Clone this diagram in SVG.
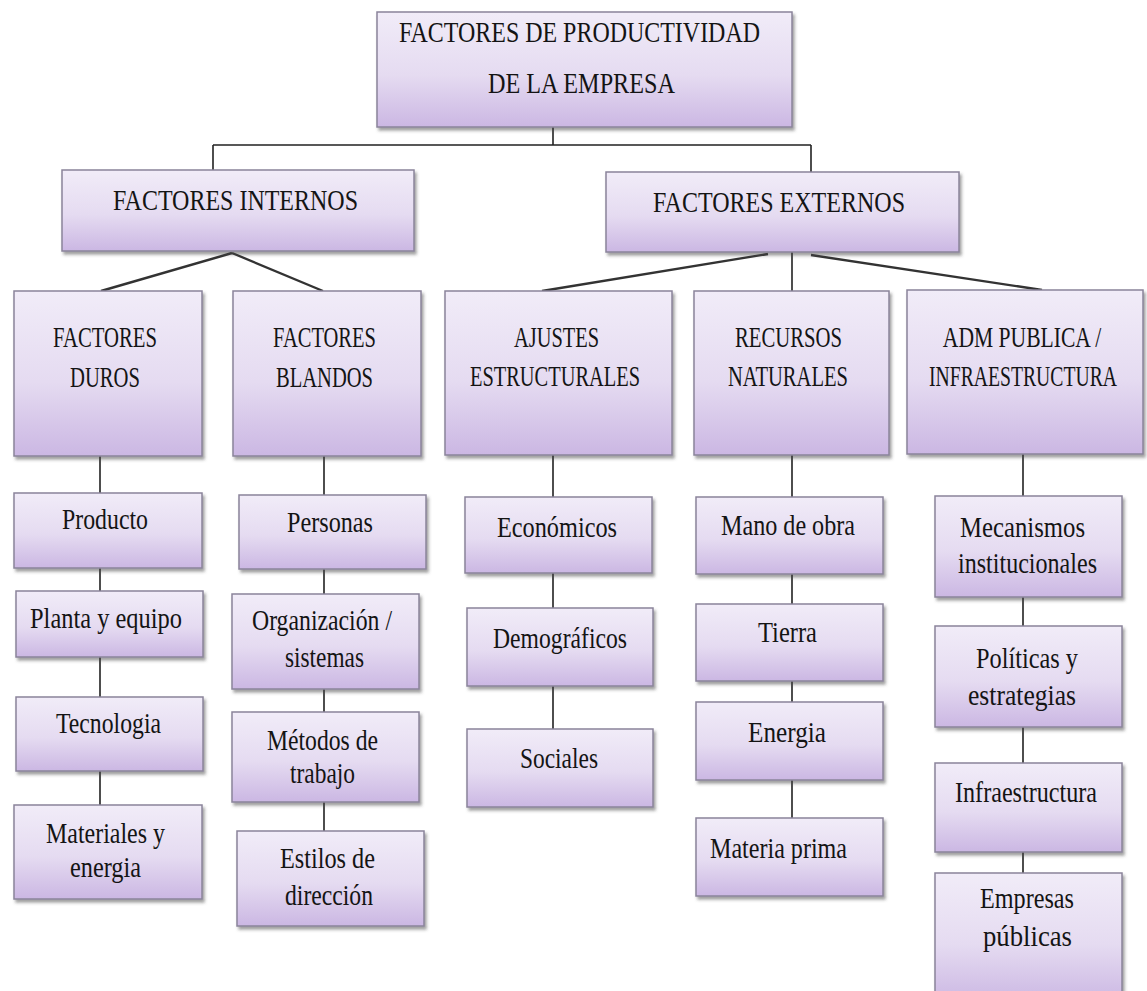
<svg xmlns="http://www.w3.org/2000/svg" width="1147" height="991" viewBox="0 0 1147 991">
<style>
.box{fill:url(#g);stroke:#8a849a;stroke-width:1.5;filter:url(#sh)}
.t{font-family:"Liberation Serif","Times New Roman",serif;font-size:30px;fill:#141414;text-anchor:middle}
.c{stroke:#222;stroke-width:1.6;fill:none}
.d{stroke:#333;stroke-width:2.4;fill:none}
</style>
<defs>
<linearGradient id="g" x1="0" y1="0" x2="0" y2="1">
<stop offset="0" stop-color="#f1ecf8"/>
<stop offset="0.55" stop-color="#e5dbf1"/>
<stop offset="1" stop-color="#cbb7e3"/>
</linearGradient>
<filter id="sh" x="-10%" y="-10%" width="125%" height="130%">
<feDropShadow dx="2" dy="3" stdDeviation="1.5" flood-color="#444" flood-opacity="0.5"/>
</filter>
</defs>
<rect width="1147" height="991" fill="#ffffff"/>
<g id="connectors">
<path class="c" d="M553 127V145M213 145H811M213 145V170M811 145V172"/>
<path class="d" d="M232 253L101 291M232 253L323 291M768 254L542 291M811 255L1042 290"/>
<path class="c" d="M792 252V291"/>
<path class="c" d="M100 456V493M100 568V591M100 657V697M100 771V805"/>
<path class="c" d="M324 456V495M324 569V594M324 689V712M324 802V831"/>
<path class="c" d="M553 455V497M553 573V608M553 686V729"/>
<path class="c" d="M792 455V497M792 574V604M792 681V702M792 780V818"/>
<path class="c" d="M1023 454V496M1023 597V626M1023 727V763M1023 852V873"/>
</g>
<g id="n-top"><rect class="box" x="377" y="12" width="415" height="115"/>
<text class="t" x="579.5" y="42" textLength="361" lengthAdjust="spacingAndGlyphs">FACTORES DE PRODUCTIVIDAD</text>
<text class="t" x="581.5" y="93" textLength="187" lengthAdjust="spacingAndGlyphs">DE LA EMPRESA</text></g>
<g id="n-internos"><rect class="box" x="62" y="170" width="352" height="81"/>
<text class="t" x="235.5" y="210" textLength="245" lengthAdjust="spacingAndGlyphs">FACTORES INTERNOS</text></g>
<g id="n-externos"><rect class="box" x="606" y="172" width="353" height="80"/>
<text class="t" x="779" y="212" textLength="252" lengthAdjust="spacingAndGlyphs">FACTORES EXTERNOS</text></g>
<g id="n-duros"><rect class="box" x="14" y="291" width="188" height="165"/>
<text class="t" x="105" y="347" textLength="104" lengthAdjust="spacingAndGlyphs">FACTORES</text>
<text class="t" x="105" y="387" textLength="70" lengthAdjust="spacingAndGlyphs">DUROS</text></g>
<g id="n-blandos"><rect class="box" x="233" y="291" width="188" height="165"/>
<text class="t" x="324.5" y="347" textLength="103" lengthAdjust="spacingAndGlyphs">FACTORES</text>
<text class="t" x="324.5" y="387" textLength="97" lengthAdjust="spacingAndGlyphs">BLANDOS</text></g>
<g id="n-ajustes"><rect class="box" x="445" y="291" width="227" height="164"/>
<text class="t" x="556.5" y="347" textLength="85" lengthAdjust="spacingAndGlyphs">AJUSTES</text>
<text class="t" x="555" y="386" textLength="170" lengthAdjust="spacingAndGlyphs">ESTRUCTURALES</text></g>
<g id="n-recursos"><rect class="box" x="694" y="291" width="195" height="164"/>
<text class="t" x="788.5" y="347" textLength="107" lengthAdjust="spacingAndGlyphs">RECURSOS</text>
<text class="t" x="788" y="386" textLength="120" lengthAdjust="spacingAndGlyphs">NATURALES</text></g>
<g id="n-adm"><rect class="box" x="907" y="290" width="236" height="164"/>
<text class="t" x="0" y="0" transform="matrix(0.72 0 0 1 1022 347)">ADM PUBLICA /</text>
<text class="t" x="0" y="0" transform="matrix(0.656 0 0 1 1023 386)">INFRAESTRUCTURA</text></g>
<g id="n-producto"><rect class="box" x="14" y="493" width="188" height="75"/>
<text class="t" x="105" y="529" textLength="86" lengthAdjust="spacingAndGlyphs">Producto</text></g>
<g id="n-planta"><rect class="box" x="16" y="591" width="187" height="66"/>
<text class="t" x="106" y="628" textLength="152" lengthAdjust="spacingAndGlyphs">Planta y equipo</text></g>
<g id="n-tecnologia"><rect class="box" x="16" y="697" width="187" height="74"/>
<text class="t" x="108.5" y="733" textLength="105" lengthAdjust="spacingAndGlyphs">Tecnologia</text></g>
<g id="n-materiales"><rect class="box" x="14" y="805" width="188" height="94"/>
<text class="t" x="105.5" y="843" textLength="119" lengthAdjust="spacingAndGlyphs">Materiales y</text>
<text class="t" x="105.5" y="877" textLength="71" lengthAdjust="spacingAndGlyphs">energia</text></g>
<g id="n-personas"><rect class="box" x="239" y="495" width="187" height="74"/>
<text class="t" x="330" y="532" textLength="86" lengthAdjust="spacingAndGlyphs">Personas</text></g>
<g id="n-organizacion"><rect class="box" x="232" y="594" width="187" height="95"/>
<text class="t" x="322" y="630" textLength="140" lengthAdjust="spacingAndGlyphs">Organización /</text>
<text class="t" x="324.5" y="667" textLength="79" lengthAdjust="spacingAndGlyphs">sistemas</text></g>
<g id="n-metodos"><rect class="box" x="232" y="712" width="187" height="90"/>
<text class="t" x="322.5" y="750" textLength="111" lengthAdjust="spacingAndGlyphs">Métodos de</text>
<text class="t" x="322.5" y="783" textLength="65" lengthAdjust="spacingAndGlyphs">trabajo</text></g>
<g id="n-estilos"><rect class="box" x="237" y="831" width="187" height="95"/>
<text class="t" x="327.5" y="868" textLength="95" lengthAdjust="spacingAndGlyphs">Estilos de</text>
<text class="t" x="329" y="905" textLength="88" lengthAdjust="spacingAndGlyphs">dirección</text></g>
<g id="n-economicos"><rect class="box" x="465" y="497" width="187" height="76"/>
<text class="t" x="557" y="537" textLength="120" lengthAdjust="spacingAndGlyphs">Económicos</text></g>
<g id="n-demograficos"><rect class="box" x="467" y="608" width="186" height="78"/>
<text class="t" x="560" y="648" textLength="134" lengthAdjust="spacingAndGlyphs">Demográficos</text></g>
<g id="n-sociales"><rect class="box" x="467" y="729" width="186" height="78"/>
<text class="t" x="559" y="768" textLength="78" lengthAdjust="spacingAndGlyphs">Sociales</text></g>
<g id="n-mano"><rect class="box" x="696" y="497" width="187" height="77"/>
<text class="t" x="788" y="535" textLength="134" lengthAdjust="spacingAndGlyphs">Mano de obra</text></g>
<g id="n-tierra"><rect class="box" x="696" y="604" width="187" height="77"/>
<text class="t" x="787.5" y="642" textLength="59" lengthAdjust="spacingAndGlyphs">Tierra</text></g>
<g id="n-energia"><rect class="box" x="696" y="702" width="187" height="78"/>
<text class="t" x="787" y="742" textLength="78" lengthAdjust="spacingAndGlyphs">Energia</text></g>
<g id="n-materia"><rect class="box" x="696" y="818" width="187" height="78"/>
<text class="t" x="778.5" y="858" textLength="137" lengthAdjust="spacingAndGlyphs">Materia prima</text></g>
<g id="n-mecanismos"><rect class="box" x="935" y="496" width="187" height="101"/>
<text class="t" x="1022.5" y="537" textLength="125" lengthAdjust="spacingAndGlyphs">Mecanismos</text>
<text class="t" x="1027.5" y="573" textLength="139" lengthAdjust="spacingAndGlyphs">institucionales</text></g>
<g id="n-politicas"><rect class="box" x="935" y="626" width="187" height="101"/>
<text class="t" x="1027" y="668" textLength="102" lengthAdjust="spacingAndGlyphs">Políticas y</text>
<text class="t" x="1022" y="705" textLength="108" lengthAdjust="spacingAndGlyphs">estrategias</text></g>
<g id="n-infra"><rect class="box" x="935" y="763" width="187" height="89"/>
<text class="t" x="1026" y="802" textLength="142" lengthAdjust="spacingAndGlyphs">Infraestructura</text></g>
<g id="n-empresas"><rect class="box" x="935" y="873" width="187" height="130"/>
<text class="t" x="1027" y="908" textLength="94" lengthAdjust="spacingAndGlyphs">Empresas</text>
<text class="t" x="1027.5" y="946" textLength="89" lengthAdjust="spacingAndGlyphs">públicas</text></g>
</svg>
